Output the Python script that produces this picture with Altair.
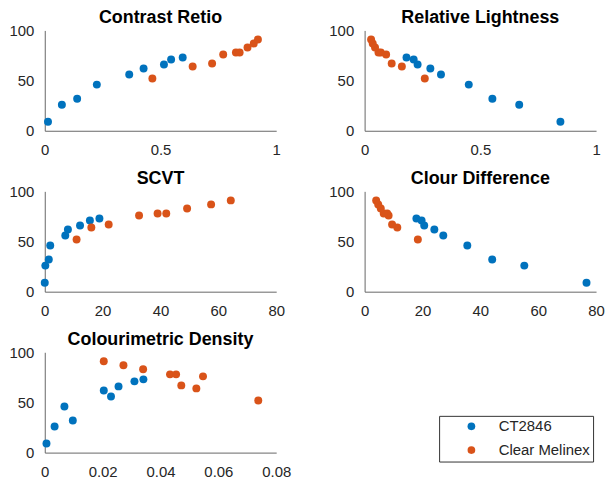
import altair as alt
import pandas as pd

series_names = ["CT2846", "Clear Melinex"]
series_colors = ["#0072BD", "#D95319"]

titles = ["Contrast Retio", "Relative Lightness", "SCVT", "Clour Difference", "Colourimetric Density"]

blue_y = [9, 26, 32, 46, 56, 62, 66, 71, 73]
orange_y = [52, 64, 67, 76, 78, 78, 83, 87, 91]

cr_blue = [0.014, 0.074, 0.14, 0.225, 0.365, 0.427, 0.515, 0.546, 0.596]
cr_orange = [0.465, 0.639, 0.723, 0.771, 0.826, 0.842, 0.876, 0.903, 0.921]
rl_blue = [0.846, 0.668, 0.552, 0.45, 0.33, 0.284, 0.229, 0.212, 0.181]
rl_orange = [0.26, 0.161, 0.117, 0.093, 0.07, 0.06, 0.045, 0.035, 0.028]
scvt_blue = [0.0, 0.2, 1.4, 1.9, 7.1, 8.0, 12.2, 15.6, 18.9]
scvt_orange = [11.0, 16.1, 22.1, 32.6, 39.0, 42.0, 49.2, 57.5, 64.3]
cd_blue = [76.7, 55.2, 44.1, 35.5, 27.2, 24.1, 20.6, 19.7, 17.9]
cd_orange = [18.4, 11.3, 9.5, 8.3, 7.8, 6.6, 5.6, 4.7, 4.0]
dens_blue = [0.0006, 0.0034, 0.0097, 0.0068, 0.0229, 0.0204, 0.0255, 0.031, 0.0341]
dens_orange = [0.0738, 0.0524, 0.0472, 0.0547, 0.0433, 0.0454, 0.034, 0.0272, 0.0204]

x_domains = [[0, 1], [0, 1], [0, 80], [0, 80], [0, 0.08]]
x_ticks = [[0, 0.5, 1], [0, 0.5, 1], [0, 20, 40, 60, 80], [0, 20, 40, 60, 80],
           [0, 0.02, 0.04, 0.06, 0.08]]
y_ticks = [0, 50, 100]

panel_x = [(cr_blue, cr_orange), (rl_blue, rl_orange), (scvt_blue, scvt_orange),
           (cd_blue, cd_orange), (dens_blue, dens_orange)]

FONT = "Liberation Sans"
AXIS_COLOR = "#262626"


def make_panel(i):
    bx, ox = panel_x[i]
    rows = []
    for x, y in zip(bx, blue_y):
        rows.append({"x": x, "y": y, "series": series_names[0]})
    for x, y in zip(ox, orange_y):
        rows.append({"x": x, "y": y, "series": series_names[1]})
    df = pd.DataFrame(rows)
    return alt.Chart(df).mark_circle(size=64, opacity=1).encode(
        x=alt.X("x:Q", scale=alt.Scale(domain=x_domains[i], nice=False, zero=False),
                axis=alt.Axis(values=x_ticks[i], format="~r", title=None, grid=False,
                              ticks=False, tickSize=0, labelPadding=12,
                              labelFontSize=15, labelFont=FONT, labelColor=AXIS_COLOR,
                              domainColor="#666666", labelFlush=False)),
        y=alt.Y("y:Q", scale=alt.Scale(domain=[0, 100], nice=False),
                axis=alt.Axis(values=y_ticks, title=None, grid=False,
                              ticks=False, tickSize=0, labelPadding=11,
                              labelFontSize=15, labelFont=FONT, labelColor=AXIS_COLOR,
                              domainColor="#666666", labelFlush=False)),
        color=alt.Color("series:N", scale=alt.Scale(domain=series_names, range=series_colors),
                        legend=alt.Legend(title=None, orient="none", legendX=397, legendY=388,
                                          symbolType="circle", symbolSize=60,
                                          symbolOffset=22, labelOffset=20,
                                          labelFontSize=15, labelFont=FONT,
                                          labelColor=AXIS_COLOR, padding=3, rowPadding=8,
                                          strokeColor="#333333", fillColor="white",
                                          labelExpr="datum.label + '\u00a0\u00a0'")),
    ).properties(
        width=233, height=101,
        title=alt.TitleParams(titles[i], fontSize=18, font=FONT, fontWeight="bold",
                              color="black", offset=-4),
    )


panels = [make_panel(i) for i in range(5)]

chart = alt.concat(*panels, columns=2, spacing={"row": 13, "column": 37}).properties(
    padding={"left": 0, "top": 0, "right": 0, "bottom": 0}
).configure_view(stroke=None)

chart.save("out.html", embed_options={"renderer": "svg", "actions": False})
